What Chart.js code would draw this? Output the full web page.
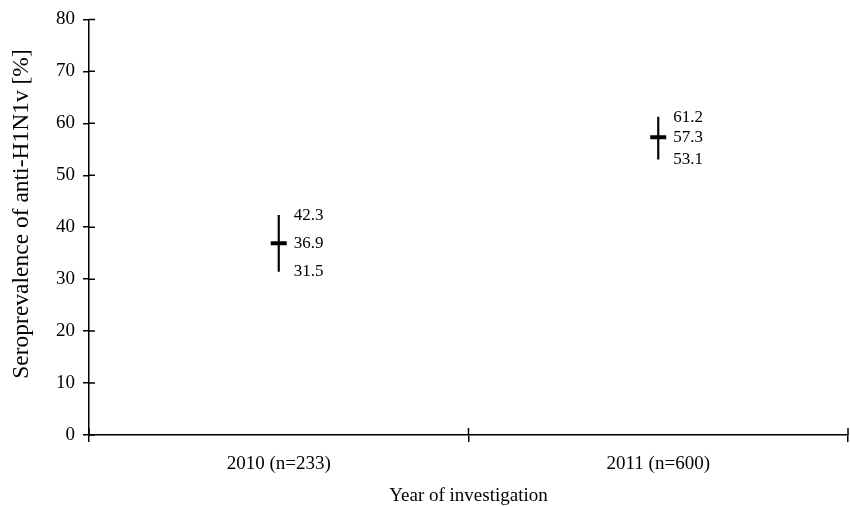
<!DOCTYPE html>
<html>
<head>
<meta charset="utf-8">
<script src="https://cdn.jsdelivr.net/npm/chart.js@4.4.1/dist/chart.umd.min.js"></script>
<style>
  html, body { margin: 0; padding: 0; background: #fff; }
  #wrap { width: 850px; height: 507px; }
</style>
</head>
<body>
<div id="wrap"><canvas id="c" width="850" height="507"></canvas></div>
<script>
// Seroprevalence estimates with 95% confidence limits
const categories = ['2010 (n=233)', '2011 (n=600)'];
const estimate = [36.9, 57.3];
const lower = [31.5, 53.1];
const upper = [42.3, 61.2];
const yTicks = [0, 10, 20, 30, 40, 50, 60, 70, 80];

const SERIF = "'Liberation Serif', 'Times New Roman', serif";

// Value labels beside each interval, and cross-shaped axis ticks
const annotate = {
  id: 'annotate',
  afterDraw(chart) {
    const ctx = chart.ctx;
    const x = chart.scales.x, y = chart.scales.y;
    const area = chart.chartArea;
    ctx.save();
    ctx.fillStyle = '#000';
    ctx.font = '17px ' + SERIF;
    ctx.textAlign = 'left';
    ctx.textBaseline = 'middle';
    categories.forEach((c, i) => {
      const px = x.getPixelForValue(i) + 15;
      [upper[i], estimate[i], lower[i]].forEach(v => {
        ctx.fillText(v.toFixed(1), px, y.getPixelForValue(v));
      });
    });

    // inward halves of the tick marks
    ctx.strokeStyle = '#000';
    ctx.lineWidth = 1.5;
    ctx.beginPath();
    yTicks.forEach(v => {
      const py = y.getPixelForValue(v);
      ctx.moveTo(area.left, py);
      ctx.lineTo(area.left + 6, py);
    });
    const mid = (x.getPixelForValue(0) + x.getPixelForValue(1)) / 2;
    [area.left, mid, area.right].forEach(px => {
      ctx.moveTo(px, area.bottom);
      ctx.lineTo(px, area.bottom - 7);
    });
    ctx.stroke();

    // vertical axis title
    ctx.font = '23.5px ' + SERIF;
    ctx.textAlign = 'center';
    ctx.translate(22, 214);
    ctx.rotate(-Math.PI / 2);
    ctx.fillText('Seroprevalence of anti-H1N1v [%]', 0, 0);
    ctx.restore();
  }
};

new Chart(document.getElementById('c'), {
  type: 'bar',
  data: {
    labels: categories,
    datasets: [
      {
        type: 'bar',
        data: lower.map((l, i) => [l, upper[i]]),
        backgroundColor: '#000',
        borderWidth: 0,
        barThickness: 1.5,
        order: 2
      },
      {
        type: 'line',
        data: estimate,
        showLine: false,
        pointStyle: 'line',
        pointRadius: 8,
        pointHoverRadius: 8,
        pointBorderWidth: 4,
        borderColor: '#000',
        backgroundColor: '#000',
        order: 1
      }
    ]
  },
  options: {
    responsive: false,
    animation: false,
    events: [],
    layout: { autoPadding: false, padding: { top: 19, right: 2, left: 0, bottom: 0 } },
    plugins: {
      legend: { display: false },
      tooltip: { enabled: false }
    },
    scales: {
      x: {
        offset: true,
        grid: {
          offset: true,
          drawOnChartArea: false,
          drawTicks: true,
          tickLength: 7,
          color: '#000',
          lineWidth: 1.5
        },
        border: { display: true, color: '#000', width: 1.5 },
        ticks: {
          color: '#000',
          font: { family: SERIF, size: 19 },
          padding: 11,
          maxRotation: 0
        },
        title: {
          display: true,
          text: 'Year of investigation',
          color: '#000',
          font: { family: SERIF, size: 19 },
          padding: { top: 0, bottom: 0 }
        },
        afterFit(s) { s.height = 72; }
      },
      y: {
        min: 0,
        max: 80,
        afterBuildTicks(s) { s.ticks = yTicks.map(v => ({ value: v })); },
        grid: {
          drawOnChartArea: false,
          drawTicks: true,
          tickLength: 6,
          color: '#000',
          lineWidth: 1.5
        },
        border: { display: true, color: '#000', width: 1.5 },
        ticks: {
          color: '#000',
          font: { family: SERIF, size: 19 },
          padding: 8
        },
        afterFit(s) { s.width = 89; }
      }
    }
  },
  plugins: [annotate]
});
</script>
</body>
</html>
